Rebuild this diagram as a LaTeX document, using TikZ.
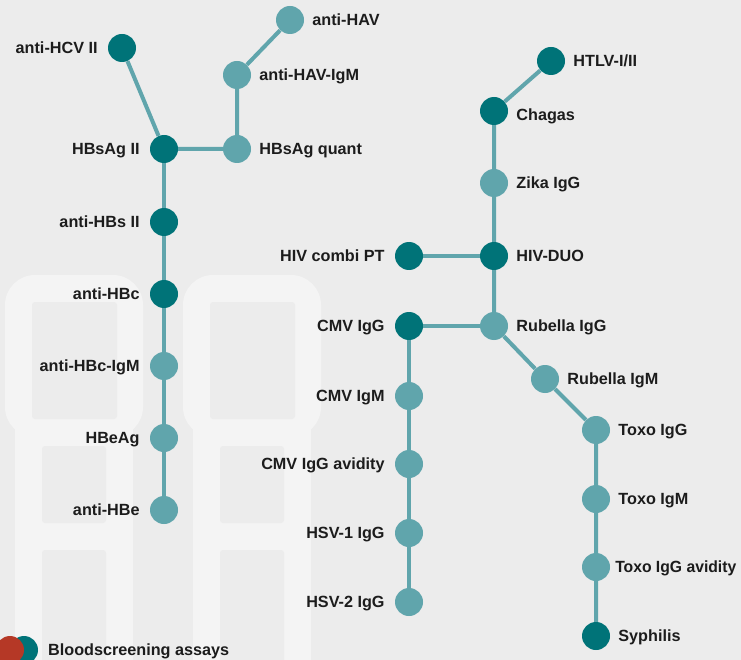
\documentclass[tikz,border=0pt]{standalone}
\usepackage{fontspec}
\setmainfont{Liberation Sans}
\usepackage{xcolor}
\usetikzlibrary{shapes,positioning}
\definecolor{bggrey}{RGB}{236,236,236}
\definecolor{framegrey}{RGB}{244,244,244}
\definecolor{tealdk}{RGB}{0,115,120}
\definecolor{teallt}{RGB}{96,165,172}
\definecolor{bloodred}{RGB}{181,56,38}
\definecolor{txtgrey}{RGB}{28,28,28}

\begin{document}
\begin{tikzpicture}[x=1pt,y=-1pt]
\tikzstyle{dk}=[circle,fill=tealdk,minimum size=28pt,inner sep=0pt]
\tikzstyle{lt}=[circle,fill=teallt,minimum size=28pt,inner sep=0pt]
\tikzstyle{lbl}=[font=\bfseries\fontsize{16.2}{18}\selectfont,text=txtgrey,inner sep=0pt,text height=11.6pt,text depth=0pt]
\tikzstyle{lbll}=[lbl,label distance=10pt]
\tikzstyle{lblr}=[lbl,label distance=8pt]
\tikzstyle{ln}=[draw=teallt,line width=4pt]
\tikzstyle{frm}=[fill=framegrey]
\tikzstyle{win}=[fill=bggrey,rounded corners=3pt]
\useasboundingbox[fill=bggrey] (0,0) rectangle (741,660);
% background houses
\foreach \dx in {0,178}{
  \fill[frm,rounded corners=30pt] (5+\dx,275) rectangle (143+\dx,437);
  \fill[frm] (15+\dx,400) rectangle (133+\dx,660);
  \fill[win] (32+\dx,302) rectangle (117+\dx,419);
  \fill[win] (42+\dx,446) rectangle (106+\dx,523);
  \fill[win] (42+\dx,550) rectangle (106+\dx,664);
}
% hepatitis line
\node (hcv) [dk,label={[lbll]left:anti-HCV II}] at (122,48) {};
\node (hav) [lt,label={[lblr]right:anti-HAV}] at (290,20) {};
\node (havigm) [lt,label={[lblr]right:anti-HAV-IgM}] at (237,75) {};
\node (hbsag) [dk,label={[lbll]left:HBsAg II}] at (164,149) {};
\node (hbsquant) [lt,label={[lblr]right:HBsAg quant}] at (237,149) {};
\node (hbs) [dk,label={[lbll]left:anti-HBs II}] at (164,222) {};
\node (hbc) [dk,label={[lbll]left:anti-HBc}] at (164,294) {};
\node (hbcigm) [lt,label={[lbll]left:anti-HBc-IgM}] at (164,366) {};
\node (hbeag) [lt,label={[lbll]left:HBeAg}] at (164,438) {};
\node (hbe) [lt,label={[lbll]left:anti-HBe}] at (164,510) {};
% retro / tropical line
\node (htlv) [dk,label={[lblr]right:HTLV-I/II}] at (551,61) {};
\node (chagas) [dk,label={[lblr,yshift=-4pt]right:Chagas}] at (494,111) {};
\node (zika) [lt,label={[lblr]right:Zika IgG}] at (494,183) {};
\node (hivduo) [dk,label={[lblr]right:HIV-DUO}] at (494,256) {};
\node (hivpt) [dk,label={[lbll]left:HIV combi PT}] at (409,256) {};
\node (rubg) [lt,label={[lblr]right:Rubella IgG}] at (494,326) {};
% TORCH lines
\node (cmvg) [dk,label={[lbll]left:CMV IgG}] at (409,326) {};
\node (cmvm) [lt,label={[lbll]left:CMV IgM}] at (409,396) {};
\node (cmvav) [lt,label={[lbll]left:CMV IgG avidity}] at (409,464) {};
\node (hsva) [lt,label={[lbll]left:HSV-1 IgG}] at (409,533) {};
\node (hsvb) [lt,label={[lbll]left:HSV-2 IgG}] at (409,602) {};
\node (rubm) [lt,label={[lblr]right:Rubella IgM}] at (545,379) {};
\node (toxog) [lt,label={[lblr]right:Toxo IgG}] at (596,430) {};
\node (toxom) [lt,label={[lblr]right:Toxo IgM}] at (596,499) {};
\node (toxoav) [lt,label={[lbl,label distance=5pt,xscale=0.97]right:Toxo IgG avidity}] at (596,567) {};
\node (syph) [dk,label={[lblr]right:Syphilis}] at (596,636) {};
% connections
\draw[ln] (hcv) -- (hbsag);
\draw[ln] (hav) -- (havigm) -- (hbsquant) -- (hbsag);
\draw[ln] (hbsag) -- (hbs) -- (hbc) -- (hbcigm) -- (hbeag) -- (hbe);
\draw[ln] (htlv) -- (chagas) -- (zika) -- (hivduo) -- (rubg);
\draw[ln] (hivpt) -- (hivduo);
\draw[ln] (cmvg) -- (rubg);
\draw[ln] (cmvg) -- (cmvm) -- (cmvav) -- (hsva) -- (hsvb);
\draw[ln] (rubg) -- (rubm) -- (toxog) -- (toxom) -- (toxoav) -- (syph);
% legend
\node (legdk) [dk] at (24,650) {};
\node (legred) [circle,fill=bloodred,minimum size=28pt,inner sep=0pt] at (10,650) {};
\node (legtxt) [lbl,anchor=west] at (48,650) {Bloodscreening assays};
\end{tikzpicture}
\end{document}
